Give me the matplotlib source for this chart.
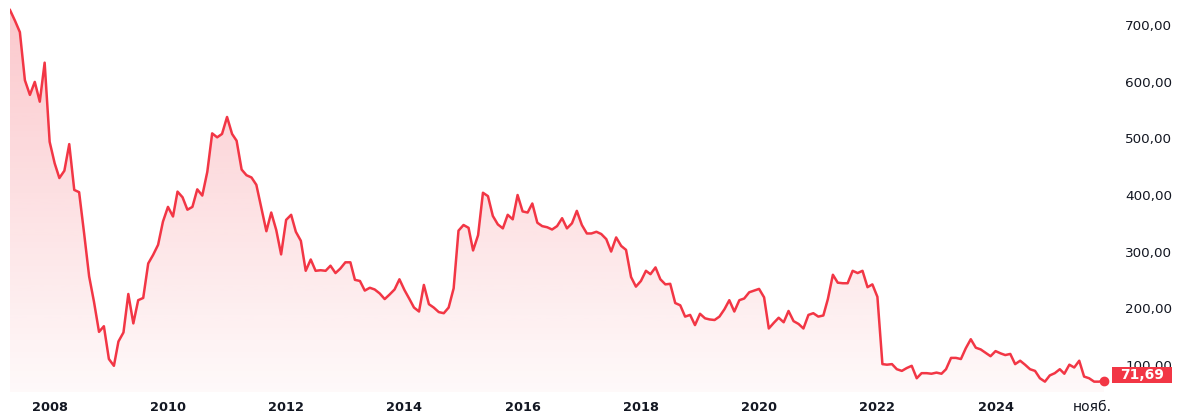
import matplotlib
matplotlib.use('Agg')
import matplotlib.pyplot as plt
import matplotlib.dates as mdates
from matplotlib.patches import Rectangle
from matplotlib.transforms import blended_transform_factory
import numpy as np
import pandas as pd

# monthly closing prices, May 2007 .. Nov 2025
start_month = '2007-05-01'
prices = [
    727, 708, 688, 603, 577, 600, 565, 634, 494, 456, 430, 443,
    490, 409, 405, 332, 256, 211, 158, 168, 110, 98, 141, 157,
    225, 173, 214, 218, 279, 294, 312, 353, 379, 362, 406, 396,
    374, 379, 410, 399, 441, 509, 502, 508, 538, 508, 496, 445,
    435, 431, 418, 377, 336, 369, 338, 295, 356, 365, 335, 319,
    266, 286, 266, 267, 266, 275, 262, 270, 281, 281, 250, 248,
    231, 236, 233, 226, 216, 224, 233, 251, 232, 216, 201, 194,
    241, 207, 201, 193, 191, 201, 235, 337, 347, 342, 302, 329,
    404, 398, 363, 348, 341, 365, 357, 400, 371, 369, 385, 351,
    345, 343, 339, 345, 359, 341, 350, 372, 347, 332, 332, 335,
    331, 322, 300, 325, 310, 303, 255, 238, 248, 266, 260, 272,
    251, 242, 243, 209, 205, 185, 188, 170, 190, 182, 180, 179,
    185, 198, 214, 194, 214, 217, 228, 231, 234, 219, 164, 174,
    183, 175, 195, 177, 172, 164, 188, 191, 185, 187, 216, 259,
    245, 244, 244, 266, 262, 266, 237, 242, 220, 101, 100, 101,
    92, 89, 94, 98, 76, 85, 85, 84, 86, 84, 92, 112,
    112, 110, 129, 145, 130, 127, 121, 115, 124, 120, 117, 119,
    101, 107, 100, 92, 89, 76, 70, 81, 85, 92, 84, 100,
    95, 107, 79, 76, 70, 70, 71.69,
]
year_ticks = ['2008', '2010', '2012', '2014', '2016', '2018', '2020', '2022', '2024']
last_tick_date = '2025-08-20'
last_tick_label = 'нояб.'
y_ticks = [100, 200, 300, 400, 500, 600, 700]

red = '#f23645'
dates = pd.date_range(start_month, periods=len(prices), freq='MS')
x = mdates.date2num(dates)
y = np.array(prices, dtype=float)

fig = plt.figure(figsize=(12, 4.19), dpi=100)
ax = fig.add_axes([10 / 1200, 27 / 419, 1098 / 1200, 392 / 419])

ymin, ymax = 51.7, 744.8
xmin = x[0]
xmax = x[-1] + (x[-1] - x[0]) * 4 / 1094

# gradient fill under the line
poly = ax.fill_between(x, y, ymin, facecolor='none', edgecolor='none')
grad = np.linspace(0.03, 0.28, 256).reshape(-1, 1)
rgba = np.zeros((256, 1, 4))
rgba[..., 0] = 242 / 255
rgba[..., 1] = 54 / 255
rgba[..., 2] = 69 / 255
rgba[..., 3] = grad
im = ax.imshow(rgba, extent=[xmin, xmax, ymin, ymax], origin='lower',
               aspect='auto', zorder=1)
im.set_clip_path(poly.get_paths()[0], transform=ax.transData)

ax.plot(x, y, color=red, lw=1.8, zorder=3, solid_joinstyle='round')
ax.plot(x[-1], y[-1], 'o', color=red, ms=6, zorder=4, clip_on=False)

ax.set_xlim(xmin, xmax)
ax.set_ylim(ymin, ymax)

for s in ax.spines.values():
    s.set_visible(False)

# x axis labels
tick_pos = [mdates.date2num(pd.Timestamp(f'{t}-01-01')) for t in year_ticks]
tick_pos.append(mdates.date2num(pd.Timestamp(last_tick_date)))
ax.set_xticks(tick_pos)
ax.set_xticklabels(year_ticks + [last_tick_label])
ax.tick_params(axis='x', length=0, pad=13.5, labelsize=9.3, labelcolor='#131722')
for lbl in ax.get_xticklabels():
    lbl.set_verticalalignment('baseline')
for lbl in ax.get_xticklabels()[:-1]:
    lbl.set_fontweight('bold')
ax.get_xticklabels()[-1].set_fontsize(10)

# y axis labels on the right
ax.yaxis.tick_right()
ax.set_yticks(y_ticks)
ax.set_yticklabels([f'{v:.2f}'.replace('.', ',') for v in y_ticks])
ax.tick_params(axis='y', length=0, pad=12.5, labelsize=9.7, labelcolor='#131722')

# last value badge
tr = blended_transform_factory(ax.transAxes, ax.transData)
box_h = 28.3
box_c = y[-1] + 10
ax.add_patch(Rectangle((1.0036, box_c - box_h / 2), 0.0547, box_h,
                       transform=tr, facecolor=red, edgecolor='none',
                       clip_on=False, zorder=5))
ax.text(1.0036 + 0.0547 / 2, box_c, f'{y[-1]:.2f}'.replace('.', ','),
        transform=tr, ha='center', va='center', color='white',
        fontsize=10, fontweight='bold', zorder=6, clip_on=False)

fig.savefig('out.png', dpi=100)
